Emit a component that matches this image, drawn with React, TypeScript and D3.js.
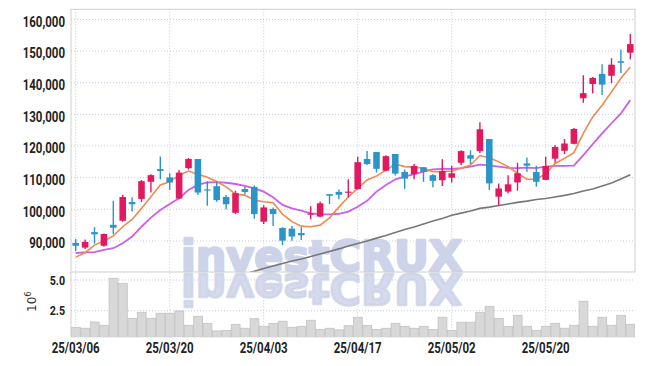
import React from "react";
import * as d3 from "d3";

const dates = [
  "25/03/06","25/03/07","25/03/10","25/03/11","25/03/12","25/03/13","25/03/14","25/03/17","25/03/18","25/03/19",
  "25/03/20","25/03/21","25/03/24","25/03/25","25/03/26","25/03/27","25/03/28","25/03/31","25/04/01","25/04/02",
  "25/04/03","25/04/04","25/04/07","25/04/08","25/04/09","25/04/10","25/04/11","25/04/14","25/04/15","25/04/16",
  "25/04/17","25/04/18","25/04/21","25/04/22","25/04/23","25/04/24","25/04/25","25/04/28","25/04/29","25/04/30",
  "25/05/02","25/05/07","25/05/08","25/05/09","25/05/12","25/05/13","25/05/14","25/05/15","25/05/16","25/05/19",
  "25/05/20","25/05/21","25/05/22","25/05/23","25/05/26","25/05/27","25/05/28","25/05/29","25/05/30","25/06/02",
];

const opens = [
  89400, 87900, 92800, 88500, 95100, 96400, 102300, 103300, 108700, 112700,
  110100, 103400, 113000, 115900, 106300, 107300, 103900, 98900, 106400, 107100,
  96100, 100100, 94100, 93900, 92500, 98300, 97700, 104800, 105500, 105300,
  106400, 115900, 118100, 112200, 117500, 111800, 111100, 113300, 110800, 109200,
  110000, 114700, 117100, 118400, 122200, 104000, 105600, 108500, 114500, 111800,
  109300, 116000, 118500, 120700, 135100, 139600, 142800, 142200, 146800, 149500,
];
const highs = [
  90600, 90500, 94300, 92400, 102700, 104600, 103800, 109300, 111100, 116700,
  111400, 112400, 116200, 115900, 108900, 108900, 104500, 105900, 107100, 107500,
  101300, 100600, 94300, 94700, 94300, 101000, 102500, 104800, 106300, 109500,
  116600, 118400, 118100, 117100, 117500, 112600, 114300, 113300, 111200, 115800,
  113800, 118700, 118700, 127500, 122200, 108200, 110800, 114700, 116400, 113800,
  116600, 120300, 122200, 125700, 142400, 141800, 145800, 147700, 150500, 155400,
];
const lows = [
  86800, 87500, 89100, 88200, 92100, 96100, 99300, 102300, 105300, 109500,
  106100, 103200, 112600, 104500, 101100, 102400, 100000, 98500, 104800, 97000,
  95400, 94700, 88700, 90100, 90300, 96900, 97500, 101700, 103200, 103800,
  106300, 114000, 111600, 112000, 110700, 106500, 109500, 108700, 107000, 107400,
  108500, 113900, 114300, 117700, 106100, 101100, 105100, 105900, 111900, 107100,
  109300, 114700, 117500, 120600, 133700, 136600, 136100, 139800, 143100, 147400,
];
const closes = [
  88500, 89700, 92100, 92200, 94200, 103900, 101600, 108900, 110800, 112100,
  108500, 111600, 115900, 105300, 106000, 102900, 101600, 105100, 105500, 98500,
  100600, 98500, 90100, 91400, 91800, 98700, 101900, 104300, 104600, 105600,
  114900, 114300, 112800, 116800, 111300, 109700, 113700, 111800, 109000, 112100,
  111400, 118400, 116000, 125300, 108200, 106600, 107900, 111400, 113800, 108700,
  113700, 119700, 120800, 125400, 136700, 141500, 139400, 145700, 146300, 152200,
];
// volume in millions (10^6)
const volumes = [
  1.15, 1.07, 1.58, 1.31, 5.14, 4.73, 1.88, 2.37, 1.88, 2.29,
  2.29, 2.48, 1.31, 2.04, 1.47, 0.85, 0.9, 1.39, 1.07, 1.85,
  1.23, 1.47, 1.64, 1.15, 1.23, 1.72, 0.98, 1.07, 0.94, 1.27,
  1.96, 1.31, 0.98, 1.07, 1.47, 1.23, 1.07, 1.23, 0.98, 1.96,
  0.9, 1.56, 1.56, 2.37, 2.86, 1.88, 1.23, 2.12, 1.23, 0.9,
  1.23, 1.47, 1.07, 1.31, 3.27, 1.23, 1.96, 1.31, 2.12, 1.39,
];
const ma5 = [
  84900, 86300, 88700, 90000, 91600, 94500, 96800, 100300, 104000, 107700,
  108700, 110800, 112100, 111100, 110100, 108800, 107100, 104800, 104500, 102900,
  102400, 102100, 98500, 96100, 94700, 94500, 95000, 97300, 100700, 103900,
  106600, 109300, 110500, 112400, 114300, 113500, 113300, 113000, 111900, 111900,
  112100, 113000, 114000, 117000, 116300, 115000, 113500, 111400, 109500, 109500,
  111200, 114500, 116100, 117900, 124000, 129200, 132900, 137100, 141400, 145000,
];
const ma10 = [
  86200, 86400, 86500, 87200, 87700, 89300, 91400, 94500, 97400, 99800,
  101700, 103500, 106100, 107700, 108500, 108600, 108400, 108000, 107400, 106600,
  105600, 103800, 101400, 100300, 99600, 98700, 98500, 98400, 98600, 99300,
  100800, 102700, 105600, 107700, 109500, 110300, 111100, 111900, 112600, 112800,
  112800, 113000, 113500, 114100, 113900, 113500, 113100, 113000, 113200, 113000,
  113500, 113700, 113700, 113800, 117100, 120600, 124000, 127200, 130300, 134500,
];
const ma60: (number | null)[] = [
  null, null, null, null, null, null, null, null, null, null,
  null, null, null, null, null, null, null, null, 79600, 80400,
  81300, 82100, 82900, 83700, 84300, 85100, 85900, 86700, 87500, 88400,
  89200, 90000, 90900, 91700, 92700, 93600, 94400, 95400, 96300, 97100,
  98100, 98800, 99500, 100300, 100700, 101200, 101700, 102200, 102600, 103100,
  103400, 103900, 104400, 105000, 105800, 106400, 107400, 108300, 109600, 110900,
];
const priceTicks = [90000, 100000, 110000, 120000, 130000, 140000, 150000, 160000];
const volumeTicks = [2.5, 5.0];
const dateTickIndex = [0, 10, 20, 30, 40, 50];

const W = 645;
const H = 366;
const L = 71;
const R = 635;
const TOP = 9.3;
const MAIN_BOTTOM = 272;
const VOL_BOTTOM = 337.3;

const UP = "#e2195f";
const DOWN = "#2b95c9";
const GRID = "#c6cbe0";
const BORDER = "#cfcfcf";
const LABEL_FONT = "Roboto, 'Noto Sans', sans-serif";
const WM = "#cdd3e8";

export default function App() {
  const idx = d3.range(dates.length);
  const x = d3.scaleBand<number>().domain(idx).range([L, R]).padding(0);
  const bw = x.bandwidth();
  const cx = (i: number) => (x(i) as number) + bw / 2;
  const y = d3.scaleLinear().domain([80200, 163200]).range([MAIN_BOTTOM, TOP]);
  const yv = d3.scaleLinear().domain([0.333, 5.65]).range([VOL_BOTTOM, MAIN_BOTTOM]);

  const line = d3
    .line<number | null>()
    .defined((d) => d != null)
    .x((_, i) => cx(i))
    .y((d) => y(d as number));

  const fmt = d3.format(",");
  const bodyW = bw * 0.7;

  return (
    <svg
      width={W}
      height={H}
      style={{ position: "absolute", left: 0, top: 0, background: "#fff" }}
    >
      <defs>
        <clipPath id="mainClip">
          <rect x={L} y={TOP} width={R - L} height={MAIN_BOTTOM - TOP} />
        </clipPath>
        <clipPath id="volClip">
          <rect x={L} y={MAIN_BOTTOM} width={R - L} height={VOL_BOTTOM - MAIN_BOTTOM} />
        </clipPath>
        <linearGradient id="reflGrad" gradientUnits="userSpaceOnUse" x1="0" y1={MAIN_BOTTOM} x2="0" y2={MAIN_BOTTOM + 34}>
          <stop offset="0" stopColor={WM} stopOpacity="0.85" />
          <stop offset="1" stopColor={WM} stopOpacity="0" />
        </linearGradient>
      </defs>

      {/* horizontal grid, main panel */}
      {priceTicks.map((t) => (
        <line key={"hg" + t} x1={L} x2={R} y1={y(t)} y2={y(t)} stroke={GRID} strokeDasharray="1,2" />
      ))}
      {/* horizontal grid, volume panel */}
      {volumeTicks.map((t) => (
        <line key={"vg" + t} x1={L} x2={R} y1={yv(t)} y2={yv(t)} stroke={GRID} strokeDasharray="1,2" />
      ))}
      {/* vertical grid */}
      {dateTickIndex.map((i) => (
        <line key={"xg" + i} x1={cx(i)} x2={cx(i)} y1={TOP} y2={VOL_BOTTOM} stroke={GRID} strokeDasharray="1,2" />
      ))}

      {/* watermark */}
      <text
        x={181}
        y={270.6}
        fontFamily="'DejaVu Sans', sans-serif"
        fontWeight={700}
        fontSize={43}
        fill={WM}
        stroke={WM}
        strokeWidth={2.4}
        strokeLinejoin="round"
        textLength={281}
        lengthAdjust="spacingAndGlyphs"
      >
        investCRUX
      </text>
      <g clipPath="url(#volClip)">
        <text
          x={181}
          y={270.6}
          transform={`translate(0, ${2 * MAIN_BOTTOM + 0.6}) scale(1,-1)`}
          fontFamily="'DejaVu Sans', sans-serif"
          fontWeight={700}
          fontSize={43}
          fill="url(#reflGrad)"
          stroke="url(#reflGrad)"
          strokeWidth={2.4}
          strokeLinejoin="round"
          textLength={281}
          lengthAdjust="spacingAndGlyphs"
        >
          investCRUX
        </text>
      </g>

      {/* moving averages */}
      <g clipPath="url(#mainClip)" fill="none">
        <path d={line(ma60) || ""} stroke="#777" strokeWidth={1.6} />
        <path d={line(ma10) || ""} stroke="#c95fea" strokeWidth={1.8} />
        <path d={line(ma5) || ""} stroke="#f08a4e" strokeWidth={1.6} />
      </g>

      {/* candles */}
      <g clipPath="url(#mainClip)">
        {idx.map((i) => {
          const o = opens[i];
          const c = closes[i];
          const up = c >= o;
          const col = up ? UP : DOWN;
          const yTop = y(Math.max(o, c));
          const yBot = y(Math.min(o, c));
          return (
            <g key={"c" + i}>
              <line x1={cx(i)} x2={cx(i)} y1={y(highs[i])} y2={y(lows[i])} stroke={col} strokeWidth={1.4} />
              <rect
                x={cx(i) - bodyW / 2}
                y={yTop}
                width={bodyW}
                height={Math.max(1.2, yBot - yTop)}
                fill={col}
              />
            </g>
          );
        })}
      </g>

      {/* volume bars */}
      <g clipPath="url(#volClip)">
        {idx.map((i) => (
          <rect
            key={"v" + i}
            x={(x(i) as number) + 0.5}
            y={yv(volumes[i])}
            width={bw - 0.6}
            height={VOL_BOTTOM - yv(volumes[i])}
            fill="#d8d8d8"
            stroke="#c2c2c2"
            strokeWidth={0.8}
          />
        ))}
      </g>

      {/* panel borders */}
      <rect x={L} y={TOP} width={R - L} height={MAIN_BOTTOM - TOP} fill="none" stroke={BORDER} strokeWidth={1} />
      <line x1={L} x2={L} y1={MAIN_BOTTOM} y2={VOL_BOTTOM} stroke={BORDER} />

      {/* price labels */}
      {priceTicks.map((t) => (
        <text
          key={"pl" + t}
          transform={`translate(65, ${y(t) + 7.2}) scale(0.74,1)`}
          textAnchor="end"
          fontFamily={LABEL_FONT}
          fontWeight={700}
          fontSize={15.5}
          fill="#222"
        >
          {fmt(t)}
        </text>
      ))}

      {/* volume labels */}
      {volumeTicks.map((t) => (
        <text
          key={"vl" + t}
          transform={`translate(65, ${yv(t) + 4.6}) scale(0.82,1)`}
          textAnchor="end"
          fontFamily={LABEL_FONT}
          fontWeight={700}
          fontSize={13}
          fill="#222"
        >
          {t.toFixed(1)}
        </text>
      ))}
      <text
        transform="translate(36, 312) rotate(-90)"
        fontFamily="'DejaVu Sans', sans-serif"
        fontSize={12}
        fill="#333"
      >
        10
        <tspan dy={-5} fontSize={8.5}>6</tspan>
      </text>

      {/* date labels */}
      {dateTickIndex.map((i) => (
        <text
          key={"dl" + i}
          transform={`translate(${cx(i)}, 353.3) scale(0.82,1)`}
          textAnchor="middle"
          fontFamily={LABEL_FONT}
          fontWeight={700}
          fontSize={14}
          fill="#222"
        >
          {dates[i]}
        </text>
      ))}
    </svg>
  );
}
